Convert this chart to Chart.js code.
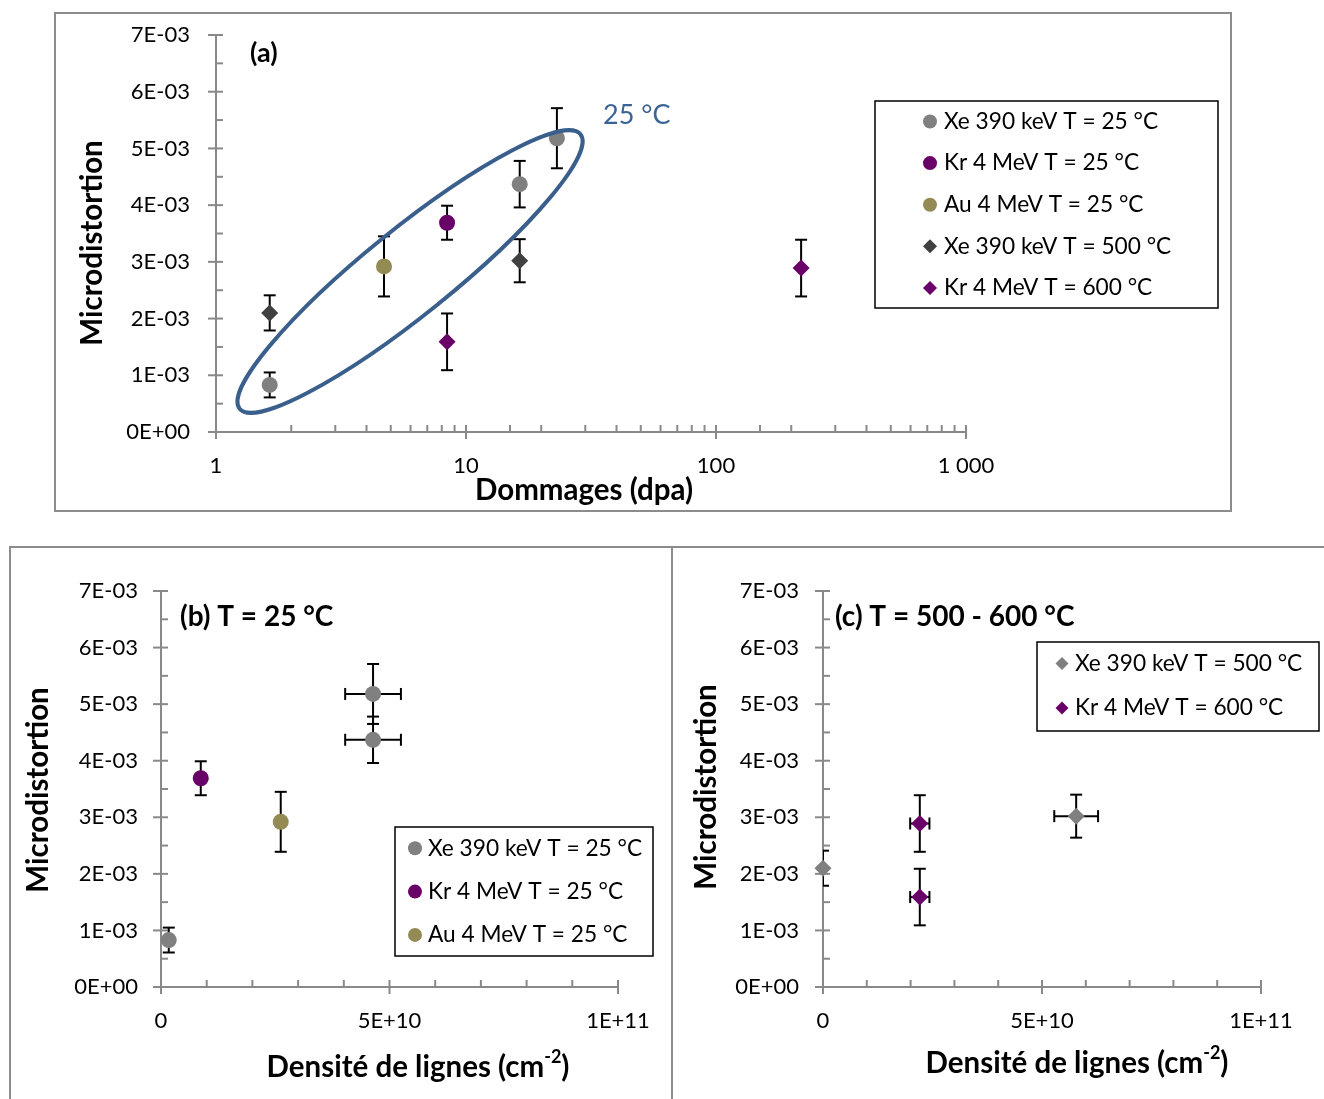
<!DOCTYPE html>
<html><head><meta charset="utf-8">
<script src="https://cdn.jsdelivr.net/npm/chart.js@4"></script>
<style>
html,body{margin:0;padding:0;background:#fff;width:1324px;height:1099px;overflow:hidden;}
.c{position:absolute;}
.frame{position:absolute;box-sizing:border-box;pointer-events:none;}
</style></head><body>
<div class="c" style="left:54px;top:13px;width:1177px;height:498px"><canvas id="ca"></canvas></div>
<div class="c" style="left:10px;top:547px;width:662px;height:552px"><canvas id="cb"></canvas></div>
<div class="c" style="left:672px;top:547px;width:652px;height:552px"><canvas id="cc"></canvas></div>
<div class="frame" style="left:54px;top:12px;width:1178px;height:500px;border:2px solid #8c8c8c"></div>
<div class="frame" style="left:9px;top:546px;width:664px;height:600px;border-left:2px solid #8c8c8c;border-top:2px solid #8c8c8c"></div>
<div class="frame" style="left:671px;top:546px;width:660px;height:600px;border-left:2px solid #8c8c8c;border-top:2px solid #8c8c8c"></div>
<script>
// ---------------- DATA ----------------
const seriesLabels = ['Xe 390 keV T = 25 °C','Kr 4 MeV T = 25 °C','Au 4 MeV T = 25 °C','Xe 390 keV T = 500 °C','Kr 4 MeV T = 600 °C'];
// microdistortion values and errors
const xe25_md = [0.83e-3, 4.37e-3, 5.18e-3];
const xe25_err = [0.22e-3, 0.41e-3, 0.53e-3];
const kr25_md = [3.69e-3];
const kr25_err = [0.30e-3];
const au25_md = [2.92e-3];
const au25_err = [0.53e-3];
const xe500_md = [2.10e-3, 3.02e-3];
const xe500_err = [0.31e-3, 0.38e-3];
const kr600_md = [1.59e-3, 2.89e-3];
const kr600_err = [0.50e-3, 0.50e-3];
// damage (dpa)
const xe25_dpa = [1.64, 16.4, 23.1];
const kr25_dpa = [8.4];
const au25_dpa = [4.7];
const xe500_dpa = [1.64, 16.4];
const kr600_dpa = [8.4, 219];
// line density (cm-2)
const xe25_dens = [1.7e9, 4.64e10, 4.64e10];
const xe25_densErr = [0, 6.1e9, 6.1e9];
const kr25_dens = [8.7e9];
const au25_dens = [2.62e10];
const xe500_dens = [0, 5.78e10];
const xe500_densErr = [0, 5.0e9];
const kr600_dens = [2.21e10, 2.21e10];
const kr600_densErr = [2.2e9, 2.2e9];
// ellipse "25 °C" major axis ends (dpa, microdistortion)
const ellipse_dpa = [1.243, 28.7];
const ellipse_md = [0.41e-3, 5.25e-3];
// tick labels
const logTickLabels = {1:'1', 10:'10', 100:'100', 1000:'1 000'};
const densTickLabels = {0:'0', 50000000000:'5E+10', 100000000000:'1E+11'};

// ---------------- STYLE ----------------
const FONT = 'Lato, "Open Sans", sans-serif';
const AXIS = '#898989';
const C_GRAY = '#808080', C_PURPLE = '#680068', C_OLIVE = '#948a54', C_DARK = '#404040';
const TITLE = 29.5, LEG = 22.7;

function pts(xs, ys, yErr, xErr) {
  return xs.map((x, i) => ({x, y: ys[i], yErr: yErr ? yErr[i] : 0, xErr: xErr ? xErr[i] : 0}));
}
function line(ctx, x1, y1, x2, y2) { ctx.beginPath(); ctx.moveTo(x1, y1); ctx.lineTo(x2, y2); ctx.stroke(); }

const errorBars = {
  id: 'errorBars',
  beforeDatasetsDraw(chart) {
    const {ctx, chartArea: a, scales: {x, y}} = chart;
    ctx.save();
    ctx.beginPath(); ctx.rect(a.left, a.top, a.right - a.left, a.bottom - a.top); ctx.clip();
    ctx.strokeStyle = '#000'; ctx.lineWidth = 2;
    const cap = 6;
    chart.data.datasets.forEach(ds => ds.data.forEach(p => {
      const px = x.getPixelForValue(p.x), py = y.getPixelForValue(p.y);
      if (p.yErr) {
        const t = y.getPixelForValue(p.y + p.yErr), b = y.getPixelForValue(p.y - p.yErr);
        line(ctx, px, t, px, b); line(ctx, px - cap, t, px + cap, t); line(ctx, px - cap, b, px + cap, b);
      }
      if (p.xErr) {
        const l = x.getPixelForValue(p.x - p.xErr), r = x.getPixelForValue(p.x + p.xErr);
        line(ctx, l, py, r, py); line(ctx, l, py - cap, l, py + cap); line(ctx, r, py - cap, r, py + cap);
      }
    }));
    ctx.restore();
  }
};

const crossTicks = {
  id: 'crossTicks',
  beforeDatasetsDraw(chart) {
    const {ctx, chartArea: a, scales: {x, y}} = chart;
    ctx.save(); ctx.strokeStyle = AXIS; ctx.lineWidth = 2;
    x.ticks.forEach((t, i) => {
      const px = x.getPixelForTick(i);
      const major = t.label !== '' && t.label != null;
      line(ctx, px, a.bottom - 7, px, a.bottom + (major ? 7 : 0));
    });
    y.ticks.forEach((t, i) => {
      const py = y.getPixelForTick(i);
      const major = t.label !== '' && t.label != null;
      line(ctx, a.left - (major ? 8 : 0), py, a.left + 7, py);
    });
    ctx.restore();
  }
};

function marker(ctx, style, x, y, r, color) {
  ctx.fillStyle = color; ctx.beginPath();
  if (style === 'rectRot') { ctx.moveTo(x - r, y); ctx.lineTo(x, y - r); ctx.lineTo(x + r, y); ctx.lineTo(x, y + r); ctx.closePath(); }
  else ctx.arc(x, y, r, 0, Math.PI * 2);
  ctx.fill();
}

const boxLegend = {
  id: 'boxLegend',
  afterDraw(chart, args, o) {
    const {ctx} = chart;
    ctx.save();
    ctx.strokeStyle = '#000'; ctx.lineWidth = 1.5;
    ctx.strokeRect(o.box[0], o.box[1], o.box[2], o.box[3]);
    ctx.font = `${LEG}px ${FONT}`; ctx.textBaseline = 'middle'; ctx.textAlign = 'left';
    chart.data.datasets.forEach((ds, i) => {
      const yy = o.y0 + i * o.dy;
      marker(ctx, ds.pointStyle, o.mx, yy, o.r, ds.backgroundColor);
      ctx.fillStyle = '#000';
      ctx.fillText(ds.label, o.tx, yy);
    });
    ctx.restore();
  }
};

const texts = {
  id: 'texts',
  afterDraw(chart, args, o) {
    const {ctx} = chart;
    (o.items || []).forEach(it => {
      ctx.save();
      ctx.translate(it.x, it.y);
      if (it.rotate) ctx.rotate(it.rotate);
      ctx.textBaseline = 'middle';
      ctx.fillStyle = it.color || '#000';
      const parts = it.parts || [{t: it.text}];
      const size = it.size, bold = it.bold ? 'bold ' : '';
      let total = 0;
      parts.forEach(p => { ctx.font = `${bold}${p.sup ? Math.round(size * 0.6) : size}px ${FONT}`; p.w = ctx.measureText(p.t).width; total += p.w; });
      let cx = it.align === 'left' ? 0 : -total / 2;
      ctx.textAlign = 'left';
      parts.forEach(p => {
        ctx.font = `${bold}${p.sup ? Math.round(size * 0.6) : size}px ${FONT}`;
        ctx.fillText(p.t, cx, p.sup ? -size * 0.33 : 0);
        cx += p.w;
      });
      ctx.restore();
    });
  }
};

const ellipse = {
  id: 'ellipse',
  afterDatasetsDraw(chart, args, o) {
    if (!o.xs) return;
    const {ctx, scales: {x, y}} = chart;
    const x1 = x.getPixelForValue(o.xs[0]), y1 = y.getPixelForValue(o.ys[0]);
    const x2 = x.getPixelForValue(o.xs[1]), y2 = y.getPixelForValue(o.ys[1]);
    const cx = (x1 + x2) / 2, cy = (y1 + y2) / 2;
    const a = Math.hypot(x2 - x1, y2 - y1) / 2, ang = Math.atan2(y2 - y1, x2 - x1);
    ctx.save(); ctx.strokeStyle = o.color; ctx.lineWidth = o.width;
    ctx.beginPath(); ctx.ellipse(cx, cy, a, o.b, ang, 0, Math.PI * 2); ctx.stroke();
    ctx.restore();
  }
};

function mdLabel(v) {
  const k = v * 1000;
  if (Math.abs(k - Math.round(k)) > 1e-6) return '';
  const n = Math.round(k);
  return n === 0 ? '0E+00' : n + 'E-03';
}
function yScale(width, pad) {
  return {
    type: 'linear', min: 0, max: 0.007,
    afterFit(s) { s.width = width; s.paddingTop = 0; s.paddingBottom = 0; },
    grid: {display: false, drawTicks: false},
    border: {display: true, color: AXIS, width: 2},
    ticks: {stepSize: 0.0005, autoSkip: false, padding: pad, color: '#000', font: {family: FONT, size: 22}, callback: v => mdLabel(v)}
  };
}
function dsCfg(label, data, style, color, r) {
  return {label, data, pointStyle: style, backgroundColor: color, borderColor: color, pointRadius: r, pointBorderWidth: 0, pointHoverRadius: r, showLine: false, clip: false};
}
const base = {animation: false, responsive: true, maintainAspectRatio: false, events: []};

// ---------------- CHART (a) ----------------
new Chart(document.getElementById('ca'), {
  type: 'scatter',
  data: {datasets: [
    dsCfg(seriesLabels[0], pts(xe25_dpa, xe25_md, xe25_err), 'circle', C_GRAY, 8),
    dsCfg(seriesLabels[1], pts(kr25_dpa, kr25_md, kr25_err), 'circle', C_PURPLE, 8),
    dsCfg(seriesLabels[2], pts(au25_dpa, au25_md, au25_err), 'circle', C_OLIVE, 8),
    dsCfg(seriesLabels[3], pts(xe500_dpa, xe500_md, xe500_err), 'rectRot', C_DARK, 8.5),
    dsCfg(seriesLabels[4], pts(kr600_dpa, kr600_md, kr600_err), 'rectRot', C_PURPLE, 8.5)
  ]},
  options: Object.assign({}, base, {
    layout: {padding: {left: 0, top: 22, right: 265, bottom: 0}},
    plugins: {
      legend: {display: false}, tooltip: {enabled: false},
      boxLegend: {box: [821, 88, 343, 207], mx: 876, tx: 890, y0: 108.5, dy: 41.6, r: 7},
      ellipse: {xs: ellipse_dpa, ys: ellipse_md, b: 43, color: '#3b5f8c', width: 4},
      texts: {items: [
        {text: '(a)', x: 196, y: 40, size: 27, bold: true, align: 'left'},
        {text: '25 °C', x: 549, y: 102, size: 27, color: '#3b6496', align: 'left'},
        {text: 'Microdistortion', x: 38, y: 230, size: TITLE, bold: true, rotate: -Math.PI / 2},
        {text: 'Dommages (dpa)', x: 530, y: 477, size: TITLE, bold: true}
      ]}
    },
    scales: {
      x: {
        type: 'logarithmic', min: 1, max: 1000,
        afterFit(s) { s.height = 79; },
        grid: {display: false, drawTicks: false},
        border: {display: true, color: AXIS, width: 2},
        ticks: {autoSkip: false, maxRotation: 0, padding: 21, color: '#000', font: {family: FONT, size: 22},
          callback: v => logTickLabels[v] !== undefined ? logTickLabels[v] : ''}
      },
      y: yScale(162, 26)
    }
  }),
  plugins: [crossTicks, errorBars, ellipse, boxLegend, texts]
});

// ---------------- CHART (b) ----------------
function densX() {
  return {
    type: 'linear', min: 0, max: 1e11,
    afterFit(s) { s.height = 112; },
    grid: {display: false, drawTicks: false},
    border: {display: true, color: AXIS, width: 2},
    ticks: {stepSize: 1e10, autoSkip: false, maxRotation: 0, padding: 21, color: '#000', font: {family: FONT, size: 22},
      callback: v => densTickLabels[Math.round(v)] !== undefined ? densTickLabels[Math.round(v)] : ''}
  };
}
const densTitle = [{t: 'Densité de lignes (cm'}, {t: '-2', sup: true}, {t: ')'}];

new Chart(document.getElementById('cb'), {
  type: 'scatter',
  data: {datasets: [
    dsCfg(seriesLabels[0], pts(xe25_dens, xe25_md, xe25_err, xe25_densErr), 'circle', C_GRAY, 8),
    dsCfg(seriesLabels[1], pts(kr25_dens, kr25_md, kr25_err), 'circle', C_PURPLE, 8),
    dsCfg(seriesLabels[2], pts(au25_dens, au25_md, au25_err), 'circle', C_OLIVE, 8)
  ]},
  options: Object.assign({}, base, {
    layout: {padding: {left: 0, top: 44, right: 54, bottom: 0}},
    plugins: {
      legend: {display: false}, tooltip: {enabled: false},
      boxLegend: {box: [385, 280, 258, 129], mx: 405, tx: 418, y0: 301.3, dy: 43.3, r: 7},
      texts: {items: [
        {text: '(b) T = 25 °C', x: 170, y: 70, size: 28, bold: true, align: 'left'},
        {text: 'Microdistortion', x: 28, y: 243, size: TITLE, bold: true, rotate: -Math.PI / 2},
        {parts: densTitle, x: 408, y: 520, size: TITLE, bold: true}
      ]}
    },
    scales: {x: densX(), y: yScale(151, 23)}
  }),
  plugins: [crossTicks, errorBars, boxLegend, texts]
});

// ---------------- CHART (c) ----------------
new Chart(document.getElementById('cc'), {
  type: 'scatter',
  data: {datasets: [
    dsCfg(seriesLabels[3], pts(xe500_dens, xe500_md, xe500_err, xe500_densErr), 'rectRot', C_GRAY, 8.5),
    dsCfg(seriesLabels[4], pts(kr600_dens, kr600_md, kr600_err, kr600_densErr), 'rectRot', C_PURPLE, 8.5)
  ]},
  options: Object.assign({}, base, {
    layout: {padding: {left: 0, top: 44, right: 63, bottom: 0}},
    plugins: {
      legend: {display: false}, tooltip: {enabled: false},
      boxLegend: {box: [365, 95, 282, 89], mx: 390, tx: 403, y0: 116.5, dy: 44.5, r: 6.5},
      texts: {items: [
        {text: '(c) T = 500 - 600 °C', x: 163, y: 70, size: 28, bold: true, align: 'left'},
        {text: 'Microdistortion', x: 34, y: 240, size: TITLE, bold: true, rotate: -Math.PI / 2},
        {parts: densTitle, x: 405, y: 516, size: TITLE, bold: true}
      ]}
    },
    scales: {x: densX(), y: yScale(151, 24)}
  }),
  plugins: [crossTicks, errorBars, boxLegend, texts]
});
</script>
</body></html>
